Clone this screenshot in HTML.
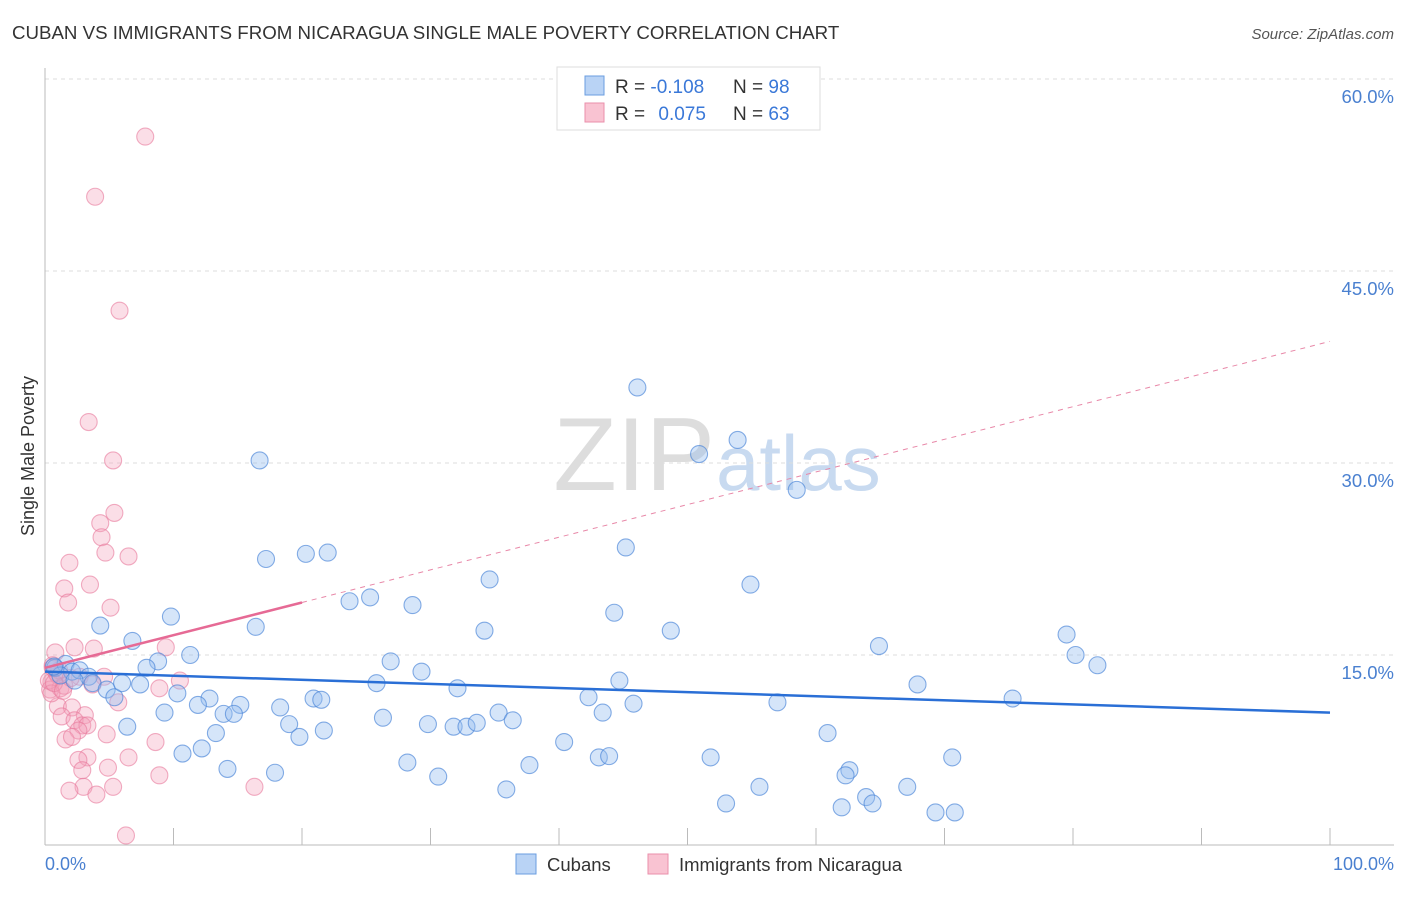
<!DOCTYPE html>
<html><head><meta charset="utf-8"><style>
body{margin:0;background:#fff;font-family:"Liberation Sans",sans-serif;}
svg text{font-family:"Liberation Sans",sans-serif;}
</style></head><body>
<svg id="chart" width="1406" height="892">
<text x="12" y="39" font-size="18.7" fill="#333">CUBAN VS IMMIGRANTS FROM NICARAGUA SINGLE MALE POVERTY CORRELATION CHART</text>
<text x="1394" y="39" font-size="15" fill="#555" font-style="italic" text-anchor="end">Source: ZipAtlas.com</text>
<text x="715" y="490" font-size="104" fill="#ddd" font-family="Liberation Serif" text-anchor="end">ZIP</text>
<text x="716" y="490" font-size="78" fill="#c8daf0">atlas</text>
<g id="grid"></g>
<g id="axes"></g>
<g id="marks"></g>
<text transform="translate(34,456) rotate(-90)" font-size="18" fill="#333" text-anchor="middle">Single Male Poverty</text>
<text x="45" y="870" font-size="18" fill="#4a80d0">0.0%</text>
<text x="1394" y="870" font-size="18" fill="#4a80d0" text-anchor="end">100.0%</text>
<g>
<rect x="557" y="67" width="263" height="63" fill="#fff" stroke="#ddd"/>
<rect x="585" y="76" width="19" height="19" fill="#b9d3f5" stroke="#6a9ee0"/>
<rect x="585" y="103" width="19" height="19" fill="#f9c3d2" stroke="#ea8fab"/>
<text x="615" y="93" font-size="19" fill="#333">R = <tspan fill="#3a78d8">-0.108</tspan></text>
<text x="733" y="93" font-size="19" fill="#333">N = <tspan fill="#3a78d8">98</tspan></text>
<text x="615" y="120" font-size="19" fill="#333">R = <tspan fill="#3a78d8" dx="8">0.075</tspan></text>
<text x="733" y="120" font-size="19" fill="#333">N = <tspan fill="#3a78d8">63</tspan></text>
</g>
<g>
<rect x="516" y="854" width="20" height="20" fill="#b9d3f5" stroke="#6a9ee0"/>
<text x="547" y="871" font-size="18.5" fill="#333">Cubans</text>
<rect x="648" y="854" width="20" height="20" fill="#f9c3d2" stroke="#ea8fab"/>
<text x="679" y="871" font-size="18.5" fill="#333">Immigrants from Nicaragua</text>
</g>
</svg>
<script>
const yTicks=[15,30,45,60];
const yTickLabels=["15.0%","30.0%","45.0%","60.0%"];
const xTicks=[0,10,20,30,40,50,60,70,80,90,100];
const cubanX=[46.1,53.9,50.9,58.5,16.7,45.2,20.3,22.0,17.2,34.6,54.9,25.3,23.7,28.6,44.3,9.8,16.4,34.2,48.7,4.3,6.8,79.5,64.9,80.2,81.9,11.3,8.8,7.9,26.9,29.3,25.8,32.1,44.7,67.9,10.3,12.8,42.3,20.9,21.5,75.3,45.8,57.0,15.2,18.3,11.9,9.3,13.9,14.7,35.3,43.4,26.3,36.4,19.0,29.8,31.8,32.8,33.6,6.4,21.7,19.8,13.3,60.9,40.4,12.2,10.7,43.1,43.9,51.8,70.6,28.2,37.7,14.2,17.9,62.6,62.3,30.6,55.6,67.1,35.9,63.9,64.4,53.0,62.0,69.3,70.8,0.8,1.6,2.1,2.7,1.2,3.4,2.3,3.7,4.8,5.4,6.0,7.4,0.7];
const cubanY=[35.9,31.8,30.7,27.9,30.2,23.4,22.9,23.0,22.5,20.9,20.5,19.5,19.2,18.9,18.3,18.0,17.2,16.9,16.9,17.3,16.1,16.6,15.7,15.0,14.2,15.0,14.5,14.0,14.5,13.7,12.8,12.4,13.0,12.7,12.0,11.6,11.7,11.6,11.5,11.6,11.2,11.3,11.1,10.9,11.1,10.5,10.4,10.4,10.5,10.5,10.1,9.9,9.6,9.6,9.4,9.4,9.7,9.4,9.1,8.6,8.9,8.9,8.2,7.7,7.3,7.0,7.1,7.0,7.0,6.6,6.4,6.1,5.8,6.0,5.6,5.5,4.7,4.7,4.5,3.9,3.4,3.4,3.1,2.7,2.7,14.0,14.3,13.7,13.8,13.4,13.3,13.0,12.8,12.3,11.7,12.8,12.7,14.1];
const nicX=[7.8,3.9,5.8,3.4,5.3,5.4,4.3,4.4,6.5,4.7,1.9,3.5,1.5,1.8,5.1,2.3,3.8,9.4,0.8,0.6,1.0,0.5,0.4,1.2,2.7,4.6,10.5,3.7,8.9,5.7,1.0,2.1,1.3,3.1,2.3,2.9,3.3,2.6,4.8,1.6,2.1,8.6,3.3,6.5,2.6,4.9,2.9,8.9,3.0,5.3,16.3,1.9,4.0,6.3,0.3,0.9,1.5,0.5,1.1,0.7,2.0,1.4,0.6];
const nicY=[55.5,50.8,41.9,33.2,30.2,26.1,25.3,24.2,22.7,23.0,22.2,20.5,20.2,19.1,18.7,15.6,15.5,15.6,15.2,14.2,13.4,12.9,12.3,12.4,13.3,13.3,13.0,12.7,12.4,11.3,11.0,10.9,10.2,10.3,9.9,9.5,9.5,9.1,8.8,8.4,8.6,8.2,7.0,7.0,6.8,6.2,6.0,5.6,4.7,4.7,4.7,4.4,4.1,0.9,13.0,13.6,12.6,12.0,13.8,12.8,13.2,12.2,14.0];
const cubanTrend=[13.7,10.5];
const nicTrend=[14.0,39.5];
const nicSolidEnd=20;
const NS="http://www.w3.org/2000/svg";
const X0=45,X1=1330,Y0=847,PX15=192;
function sx(v){return X0+(X1-X0)*v/100;}
function sy(v){return Y0-v*PX15/15;}
function mk(tag,attrs,parent){const e=document.createElementNS(NS,tag);for(const k in attrs)e.setAttribute(k,attrs[k]);parent.appendChild(e);return e;}
const grid=document.getElementById('grid'),axes=document.getElementById('axes'),marks=document.getElementById('marks');
yTicks.forEach((t,i)=>{
 const l=mk('line',{x1:X0,x2:1394,y1:sy(t),y2:sy(t),stroke:'#ddd','stroke-dasharray':'4,4'},grid);
 
 
 const tx=mk('text',{x:1394,y:sy(t)+24,'font-size':18.5,fill:'#4a80d0','text-anchor':'end'},grid);
 tx.textContent=yTickLabels[i];
 
 
});
const ax=mk('line',{x1:X0,x2:X0,y1:68,y2:845,stroke:'#bbb'},axes);


const bx=mk('line',{x1:X0,x2:1394,y1:845,y2:845,stroke:'#bbb'},axes);


xTicks.forEach(t=>{
 const l=mk('line',{x1:sx(t),x2:sx(t),y1:828,y2:845,stroke:'#bbb'},axes);
 
 
});
nicX.forEach((x,i)=>{
 const c=mk('circle',{cx:sx(x),cy:sy(nicY[i]),r:8.5,fill:'rgba(244,160,185,0.35)',stroke:'rgba(232,120,155,0.6)','stroke-width':1.1},marks);
 
 
});
cubanX.forEach((x,i)=>{
 const c=mk('circle',{cx:sx(x),cy:sy(cubanY[i]),r:8.5,fill:'rgba(150,190,240,0.4)',stroke:'rgba(70,130,215,0.65)','stroke-width':1.1},marks);
 
 
});
const nAt=v=>nicTrend[0]+(nicTrend[1]-nicTrend[0])*v/100;
const nd=mk('line',{x1:sx(nicSolidEnd),y1:sy(nAt(nicSolidEnd)),x2:sx(100),y2:sy(nicTrend[1]),stroke:'#e888a8','stroke-width':1,'stroke-dasharray':'5,5'},marks);


const ns=mk('line',{x1:sx(0),y1:sy(nicTrend[0]),x2:sx(nicSolidEnd),y2:sy(nAt(nicSolidEnd)),stroke:'#e66a95','stroke-width':2.5},marks);


const cl=mk('line',{x1:sx(0),y1:sy(cubanTrend[0]),x2:sx(100),y2:sy(cubanTrend[1]),stroke:'#2a6fd6','stroke-width':2.5},marks);


</script>
</body></html>
